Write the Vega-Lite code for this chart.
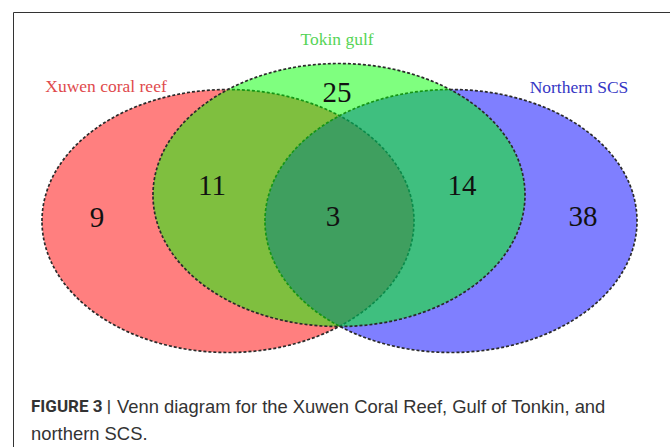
{
  "$schema": "https://vega.github.io/schema/vega-lite/v6.json",
  "width": 670,
  "height": 447,
  "autosize": {"type": "none"},
  "padding": {"left": 13, "top": 12, "right": 0, "bottom": 0},
  "background": "white",
  "config": {"view": {"stroke": "#333333", "strokeWidth": 1}},
  "datasets": {
    "sets": [
      {"set": "Xuwen coral reef", "cx": 228, "cy": 221, "lx": 106, "ly": 87},
      {"set": "Northern SCS", "cx": 451, "cy": 221, "lx": 579, "ly": 88},
      {"set": "Tokin gulf", "cx": 339, "cy": 195, "lx": 337, "ly": 40}
    ],
    "counts": [
      {"region": "Xuwen only", "n": "9", "x": 97, "y": 218},
      {"region": "Xuwen & Tokin", "n": "11", "x": 212, "y": 186},
      {"region": "Tokin only", "n": "25", "x": 337, "y": 93},
      {"region": "All three", "n": "3", "x": 333, "y": 217},
      {"region": "Tokin & Northern", "n": "14", "x": 462, "y": 186},
      {"region": "Northern only", "n": "38", "x": 583, "y": 217}
    ],
    "captionBold": [
      {"text": "FIGURE 3 |", "x": 31, "y": 407}
    ],
    "captionText": [
      {"text": "Venn diagram for the Xuwen Coral Reef, Gulf of Tonkin, and", "x": 117, "y": 407},
      {"text": "northern SCS.", "x": 31, "y": 434}
    ]
  },
  "layer": [
    {
      "data": {"name": "sets"},
      "mark": {
        "type": "point",
        "shape": "M -1 0 A 1 0.707 0 1 1 1 0 A 1 0.707 0 1 1 -1 0 Z",
        "size": 138384,
        "filled": true,
        "fillOpacity": 0.5,
        "stroke": "#2a2a2a",
        "strokeOpacity": 1,
        "strokeWidth": 1.7,
        "strokeDash": [3, 2]
      },
      "encoding": {
        "x": {"field": "cx", "type": "quantitative", "scale": {"domain": [13, 683]}, "axis": null},
        "y": {"field": "cy", "type": "quantitative", "scale": {"domain": [12, 459], "reverse": true}, "axis": null},
        "fill": {"field": "set", "type": "nominal", "scale": {"domain": ["Xuwen coral reef", "Tokin gulf", "Northern SCS"], "range": ["#ff0000", "#00ff00", "#0000ff"]}, "legend": null}
      }
    },
    {
      "data": {"name": "counts"},
      "mark": {"type": "text", "font": "Liberation Serif", "fontSize": 29, "align": "center", "baseline": "middle", "color": "#111111"},
      "encoding": {
        "x": {"field": "x", "type": "quantitative", "scale": {"domain": [13, 683]}, "axis": null},
        "y": {"field": "y", "type": "quantitative", "scale": {"domain": [12, 459], "reverse": true}, "axis": null},
        "text": {"field": "n"}
      }
    },
    {
      "data": {"name": "sets"},
      "mark": {"type": "text", "font": "Liberation Serif", "fontSize": 17.5, "align": "center", "baseline": "middle"},
      "encoding": {
        "x": {"field": "lx", "type": "quantitative", "scale": {"domain": [13, 683]}, "axis": null},
        "y": {"field": "ly", "type": "quantitative", "scale": {"domain": [12, 459], "reverse": true}, "axis": null},
        "text": {"field": "set"},
        "color": {"field": "set", "type": "nominal", "scale": {"domain": ["Xuwen coral reef", "Tokin gulf", "Northern SCS"], "range": ["#e04a4c", "#56d456", "#3636c4"]}, "legend": null}
      }
    },
    {
      "data": {"name": "captionBold"},
      "mark": {"type": "text", "font": "Roboto", "fontSize": 17, "fontWeight": "bold", "align": "left", "baseline": "middle", "color": "#333333"},
      "encoding": {
        "x": {"field": "x", "type": "quantitative", "scale": {"domain": [13, 683]}, "axis": null},
        "y": {"field": "y", "type": "quantitative", "scale": {"domain": [12, 459], "reverse": true}, "axis": null},
        "text": {"field": "text"}
      }
    },
    {
      "data": {"name": "captionText"},
      "mark": {"type": "text", "font": "Liberation Sans", "fontSize": 18.4, "align": "left", "baseline": "middle", "color": "#333333"},
      "encoding": {
        "x": {"field": "x", "type": "quantitative", "scale": {"domain": [13, 683]}, "axis": null},
        "y": {"field": "y", "type": "quantitative", "scale": {"domain": [12, 459], "reverse": true}, "axis": null},
        "text": {"field": "text"}
      }
    }
  ],
  "resolve": {"scale": {"color": "independent"}}
}
